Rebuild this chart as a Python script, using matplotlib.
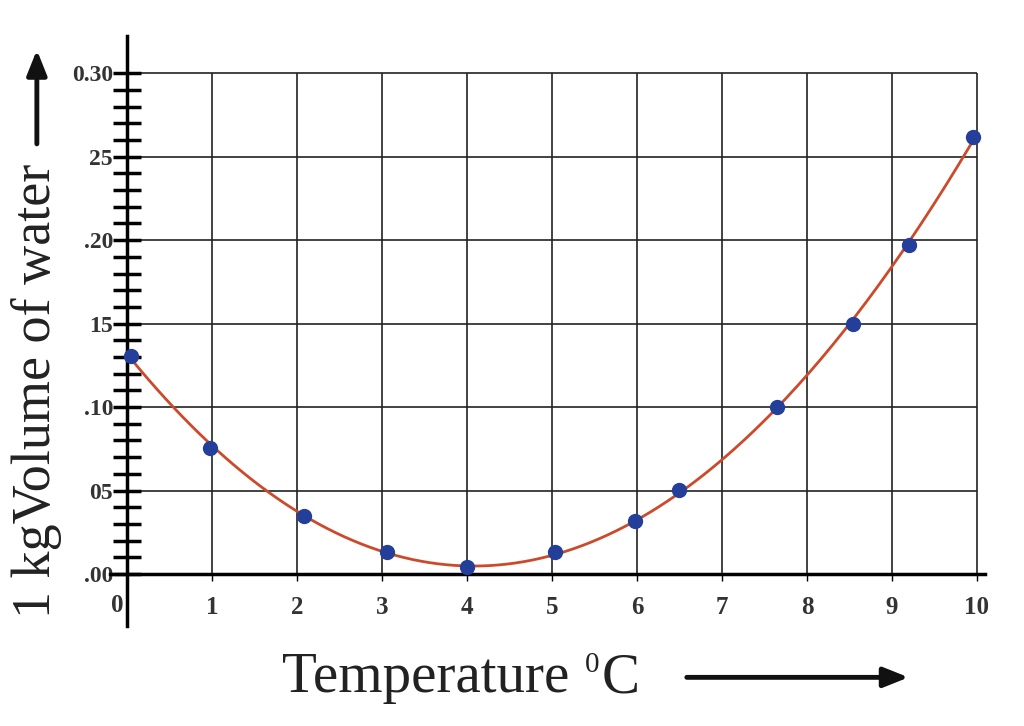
import numpy as np
import matplotlib.pyplot as plt

temp = [0.05, 0.98, 2.08, 3.06, 4.0, 5.04, 5.98, 6.5, 7.65, 8.54, 9.2, 9.95]
volume = [0.1305, 0.0754, 0.0347, 0.0132, 0.0042, 0.0132, 0.0317, 0.0503, 0.100, 0.150, 0.197, 0.2617]

xticks = [0, 1, 2, 3, 4, 5, 6, 7, 8, 9, 10]
yticks = [0.0, 0.05, 0.10, 0.15, 0.20, 0.25, 0.30]
ylabels = ['.00', '05', '.10', '15', '.20', '25', '0.30']

plt.rcParams['font.family'] = ['Liberation Serif', 'DejaVu Serif']

fig = plt.figure(figsize=(10.24, 7.26), dpi=100)
ax = fig.add_axes([0.1074, 0.138, 0.855, 0.813])
ax.set_xlim(-0.2, 10.1)
ax.set_ylim(-0.031, 0.3225)

# grid, only inside the data box
ax.vlines(xticks[1:], 0, yticks[-1], color='#222222', lw=1.2, zorder=1)
ax.hlines(yticks[1:], 0, xticks[-1], color='#222222', lw=1.2, zorder=1)

# trend line through the measured points
fit = np.polyfit(temp, volume, 3)
xs = np.linspace(0.02, 10, 300)
ax.plot(xs, np.polyval(fit, xs), color='#cc4a2c', lw=2, zorder=2)
ax.plot(temp, volume, 'o', color='#233f99', ms=10, zorder=3)

for s in ['top', 'right']:
    ax.spines[s].set_visible(False)
ax.spines['left'].set_position(('data', 0))
ax.spines['bottom'].set_position(('data', 0))
ax.spines['left'].set_linewidth(2.5)
ax.spines['bottom'].set_linewidth(2.5)

ax.set_yticks(yticks)
ax.set_yticklabels(ylabels, fontweight='bold', fontsize=17, color='#333333')
ax.set_yticks(np.arange(0, 0.301, 0.01), minor=True)
ax.tick_params(axis='y', which='both', direction='inout', length=20, width=2.5, pad=0)

ax.set_xticks(xticks)
ax.set_xticklabels([''] + [str(t) for t in xticks[1:]], fontweight='bold', fontsize=18, color='#333333')
ax.tick_params(axis='x', direction='out', length=5, width=1, pad=11)
ax.text(-0.12, -0.019, '0', ha='center', va='center', fontweight='bold', fontsize=18, color='#333333')

# x label with a small raised 0
fig.text(0.2754, 0.066, 'Temperature', ha='left', va='center', fontsize=41, color='#222222')
fig.text(0.571, 0.084, '0', ha='left', va='center', fontsize=21, color='#222222')
fig.text(0.588, 0.066, 'C', ha='left', va='center', fontsize=41, color='#222222')
fig.text(0.036, 0.462, '1 kgVolume of water', ha='center', va='center', rotation=90, fontsize=39, color='#222222')
fig.add_artist(plt.Annotation('', xy=(0.89, 0.067), xytext=(0.668, 0.067), xycoords='figure fraction',
                              arrowprops=dict(arrowstyle='-|>,head_length=1.5,head_width=0.6', lw=3.5, color='#111111')))
fig.add_artist(plt.Annotation('', xy=(0.036, 0.935), xytext=(0.036, 0.798), xycoords='figure fraction',
                              arrowprops=dict(arrowstyle='-|>,head_length=1.5,head_width=0.6', lw=3.5, color='#111111')))

fig.savefig('out.png', dpi=100)
